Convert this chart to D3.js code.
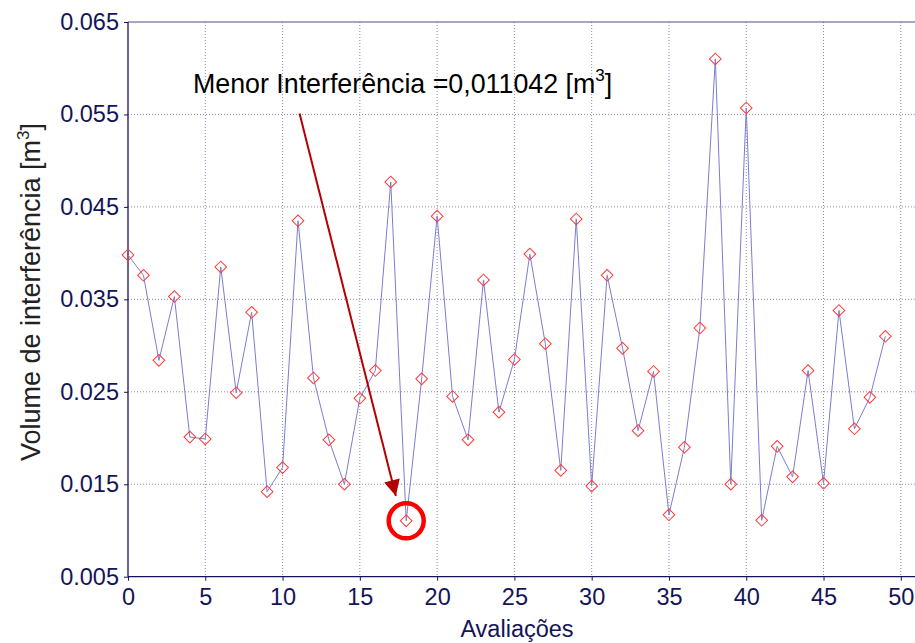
<!DOCTYPE html>
<html>
<head>
<meta charset="utf-8">
<script src="https://cdn.jsdelivr.net/npm/d3@7"></script>
<style>
  html, body { margin: 0; padding: 0; background: #fff; }
  svg { display: block; }
  text { font-family: Arial, "Liberation Sans", sans-serif; }
</style>
</head>
<body>
<svg id="chart" width="915" height="643"></svg>
<script>
// ---- data ----
const avaliacoes = d3.range(0, 50);
const volumes = [
  0.0398, 0.0376, 0.0284, 0.0353, 0.0201, 0.0199, 0.0385, 0.0249, 0.0336, 0.0142,
  0.0168, 0.0435, 0.0265, 0.0198, 0.0150, 0.0243, 0.0273, 0.0477, 0.011042, 0.0264,
  0.0440, 0.0245, 0.0198, 0.0371, 0.0228, 0.0285, 0.0399, 0.0302, 0.0165, 0.0437,
  0.0148, 0.0376, 0.0297, 0.0208, 0.0272, 0.0117, 0.0190, 0.0319, 0.0610, 0.0150,
  0.0557, 0.0111, 0.0191, 0.0158, 0.0273, 0.0151, 0.0338, 0.0210, 0.0244, 0.0310
];
const xTicks = [0, 5, 10, 15, 20, 25, 30, 35, 40, 45, 50];
const yTicks = [0.005, 0.015, 0.025, 0.035, 0.045, 0.055, 0.065];
const minIndex = 18;
const minValue = 0.011042;
const annotationText = "Menor Interferência =0,011042 [m";
const annotationPos = [4.2, 0.0573];
const arrowStart = [11.1, 0.0551];
const arrowEnd = [17.33, 0.01373];

// ---- layout ----
const svg = d3.select("#chart");
const pLeft = 128, pRight = 900.8, pTop = 22, pBottom = 576.7, pEdge = 916;
const x = d3.scaleLinear().domain([0, 50]).range([pLeft, pRight]);
const y = d3.scaleLinear().domain([0.005, 0.065]).range([pBottom, pTop]);
const navy = "#141458";
const FONT = "Arial, 'Liberation Sans', sans-serif";

// grid
const grid = svg.append("g");
grid.selectAll("line.h").data(yTicks.slice(1, -1)).enter().append("line")
  .attr("x1", pLeft).attr("x2", pEdge)
  .attr("y1", d => y(d)).attr("y2", d => y(d))
  .attr("stroke", "#8a8ab4").attr("stroke-width", 1).attr("stroke-dasharray", "1,2");
grid.selectAll("line.v").data(xTicks.slice(1)).enter().append("line")
  .attr("x1", d => x(d)).attr("x2", d => x(d))
  .attr("y1", pTop).attr("y2", pBottom)
  .attr("stroke", "#8a8ab4").attr("stroke-width", 1).attr("stroke-dasharray", "1,2");

// box top
svg.append("line").attr("x1", pLeft).attr("x2", pEdge).attr("y1", pTop).attr("y2", pTop)
  .attr("stroke", "#505080").attr("stroke-width", 1.2);

// axes
const yAxis = d3.axisLeft(y).tickValues(yTicks).tickFormat(d3.format(".3f")).tickSize(4).tickPadding(5);
const gy = svg.append("g").attr("transform", `translate(${pLeft},0)`).call(yAxis);
gy.select(".domain").remove();
gy.selectAll("line").attr("stroke", navy);
gy.selectAll("text").attr("fill", navy).style("font-size", "23.5px").attr("font-family", FONT);
svg.append("line").attr("x1", pLeft).attr("x2", pLeft).attr("y1", pTop).attr("y2", pBottom)
  .attr("stroke", navy).attr("stroke-width", 1.3);

const xAxis = d3.axisBottom(x).tickValues(xTicks).tickFormat(d3.format("d")).tickSize(4).tickPadding(8);
const gx = svg.append("g").attr("transform", `translate(0,${pBottom})`).call(xAxis);
gx.select(".domain").remove();
gx.selectAll("line").attr("stroke", navy);
gx.selectAll("text").attr("fill", navy).style("font-size", "23.5px").attr("font-family", FONT);
svg.append("line").attr("x1", pLeft).attr("x2", pEdge).attr("y1", pBottom).attr("y2", pBottom)
  .attr("stroke", navy).attr("stroke-width", 1.3);

// series line
const line = d3.line().x((d, i) => x(avaliacoes[i])).y(d => y(d));
svg.append("path").datum(volumes).attr("d", line)
  .attr("fill", "none").attr("stroke", "#7c7cd2").attr("stroke-width", 1);

// markers (diamonds)
const sym = d3.symbol().type(d3.symbolSquare).size(68);
svg.selectAll("path.m").data(volumes).enter().append("path")
  .attr("d", sym)
  .attr("transform", (d, i) => `translate(${x(avaliacoes[i])},${y(d)}) rotate(45)`)
  .attr("fill", "none").attr("stroke", "#ff3a3a").attr("stroke-width", 1);

// axis labels
svg.append("text").attr("x", 517).attr("y", 637).attr("text-anchor", "middle")
  .attr("fill", navy).style("font-size", "23.5px").text("Avaliações");

const yl = svg.append("text").attr("transform", "translate(40,292) rotate(-90)")
  .attr("text-anchor", "middle").attr("fill", "#222").style("font-size", "27px");
yl.append("tspan").text("Volume de interferência [m");
yl.append("tspan").attr("dy", -11).style("font-size", "17px").text("3");
yl.append("tspan").attr("dy", 11).text("]");

// annotation
const an = svg.append("text").attr("x", x(annotationPos[0])).attr("y", y(annotationPos[1]))
  .attr("fill", "#000").style("font-size", "26.8px");
an.append("tspan").text(annotationText);
an.append("tspan").attr("dy", -12).style("font-size", "17px").text("3");
an.append("tspan").attr("dy", 12).text("]");

// arrow
const defs = svg.append("defs");
defs.append("marker").attr("id", "ah").attr("viewBox", "0 0 10 10")
  .attr("refX", 10).attr("refY", 5).attr("markerWidth", 18).attr("markerHeight", 16)
  .attr("markerUnits", "userSpaceOnUse").attr("orient", "auto")
  .append("path").attr("d", "M0,0 L10,5 L0,10 z").attr("fill", "#b40000");
svg.append("line")
  .attr("x1", x(arrowStart[0])).attr("y1", y(arrowStart[1]))
  .attr("x2", x(arrowEnd[0])).attr("y2", y(arrowEnd[1]))
  .attr("stroke", "#b40000").attr("stroke-width", 2).attr("marker-end", "url(#ah)");

// circle around minimum
svg.append("circle").attr("cx", x(minIndex)).attr("cy", y(minValue)).attr("r", 17.5)
  .attr("fill", "none").attr("stroke", "#ff0000").attr("stroke-width", 4.5);
</script>
</body>
</html>
